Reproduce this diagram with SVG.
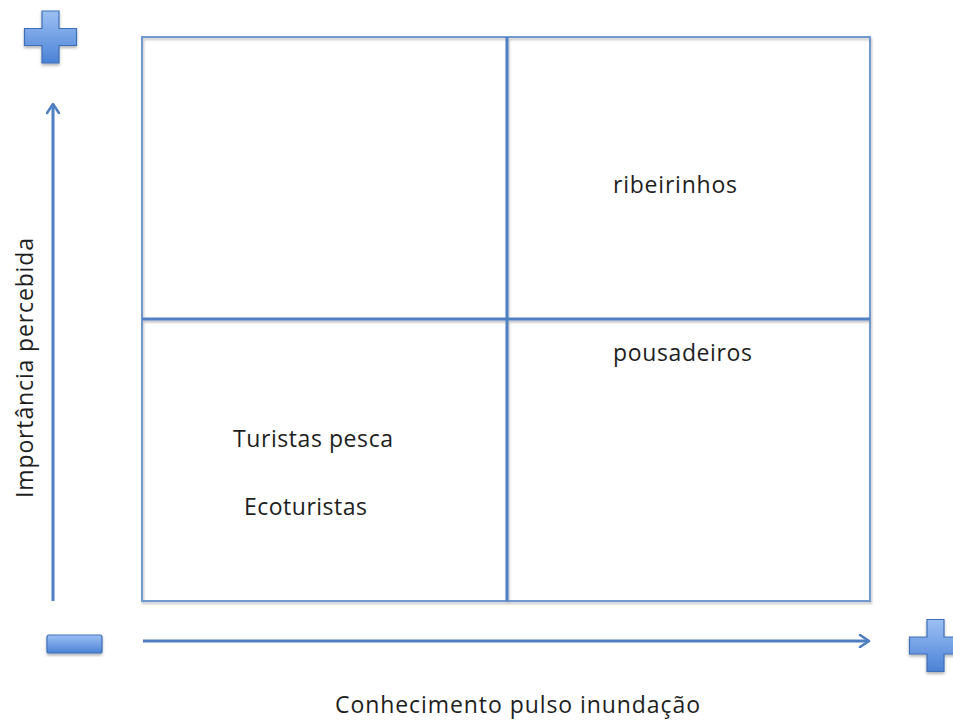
<svg xmlns="http://www.w3.org/2000/svg" width="953" height="724" viewBox="0 0 953 724">
  <defs>
    <linearGradient id="blue" x1="0" y1="0" x2="0" y2="1">
      <stop offset="0" stop-color="#9cc0f4"/>
      <stop offset="1" stop-color="#4b82d6"/>
    </linearGradient>
    <filter id="shadow" x="-20%" y="-20%" width="140%" height="140%">
      <feDropShadow dx="0" dy="2" stdDeviation="1.5" flood-color="#000" flood-opacity="0.3"/>
    </filter>
    <filter id="lshadow" x="-5%" y="-5%" width="110%" height="110%">
      <feDropShadow dx="1" dy="2" stdDeviation="1.2" flood-color="#000" flood-opacity="0.25"/>
    </filter>
    <marker id="arrow" viewBox="0 0 14 14" refX="12" refY="7" markerWidth="14" markerHeight="14" markerUnits="userSpaceOnUse" orient="auto">
      <path d="M3,1 L12,7 L3,13" fill="none" stroke="#4f7fc0" stroke-width="2.6" stroke-linecap="round" stroke-linejoin="round"/>
    </marker>
    <path id="plus" d="M-8.5,-26 H8.5 V-8.5 H26 V8.5 H8.5 V26 H-8.5 V8.5 H-26 V-8.5 H-8.5 Z"/>
  </defs>
  <style>
    .lbl { font-family: "Open Sans", "Liberation Sans", sans-serif; font-size: 23px; fill: #1e1e1e; }
    .frame { fill: none; stroke: #7199cf; stroke-width: 2; }
    .div { stroke: #4f80c2; stroke-width: 3; fill: none; }
    .axis { stroke: #4f7fc0; stroke-width: 3; fill: none; }
    .icon { fill: url(#blue); stroke: #3e6fb8; stroke-width: 1.2; }
  </style>

  <g id="matrix" filter="url(#lshadow)">
    <rect class="frame" x="142" y="37" width="728" height="564"/>
    <line class="div" x1="507" y1="37" x2="507" y2="601"/>
    <line class="div" x1="142" y1="319" x2="870" y2="319"/>
  </g>

  <g id="connectors">
    <line class="axis" x1="53" y1="601" x2="53" y2="104" marker-end="url(#arrow)"/>
    <line class="axis" x1="143" y1="641" x2="869" y2="641" marker-end="url(#arrow)"/>
  </g>

  <g id="plus-top" filter="url(#shadow)">
    <use href="#plus" class="icon" transform="translate(50.5,37)"/>
  </g>
  <g id="plus-right" filter="url(#shadow)">
    <use href="#plus" class="icon" transform="translate(935.5,645.5)"/>
  </g>
  <g id="minus" filter="url(#shadow)">
    <rect class="icon" x="47" y="635" width="55" height="18" rx="2"/>
  </g>

  <g id="ribeirinhos"><text class="lbl" x="613" y="193" textLength="124">ribeirinhos</text></g>
  <g id="pousadeiros"><text class="lbl" x="613" y="361" textLength="139">pousadeiros</text></g>
  <g id="turistas-pesca"><text class="lbl" x="233" y="447" textLength="160">Turistas pesca</text></g>
  <g id="ecoturistas"><text class="lbl" x="244" y="515" textLength="123">Ecoturistas</text></g>
  <g id="y-axis-label"><text class="lbl" transform="translate(33,368) rotate(-90)" text-anchor="middle" textLength="260">Importância percebida</text></g>
  <g id="x-axis-label"><text class="lbl" x="517.5" y="713" text-anchor="middle" textLength="365">Conhecimento pulso inundação</text></g>
</svg>
